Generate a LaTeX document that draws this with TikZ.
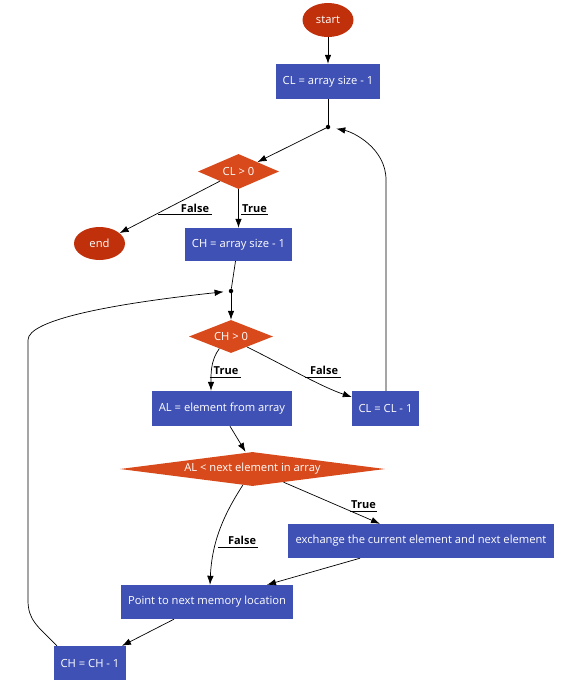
\documentclass[tikz,border=0pt]{standalone}
\usepackage{fontspec}
\setmainfont{Open Sans}
\usetikzlibrary{arrows.meta,shapes.geometric}
\definecolor{boxblue}{HTML}{3F51B5}
\definecolor{decorange}{HTML}{D84A1B}
\definecolor{termred}{HTML}{C0300A}
\tikzset{
  box/.style={rectangle, fill=boxblue, text=white, inner sep=0pt, font=\fontsize{11.2}{13}\selectfont},
  dec/.style={diamond, fill=decorange, text=white, inner sep=0pt, font=\fontsize{11.2}{13}\selectfont},
  term/.style={ellipse, fill=termred, text=white, inner sep=0pt, minimum width=51pt, minimum height=34pt, font=\fontsize{11.2}{13}\selectfont},
  dot/.style={circle, fill=black, inner sep=0pt, minimum size=4.5pt},
  arr/.style={draw=black, line width=0.7pt, -{Latex[length=9pt,width=6.5pt]}},
  ln/.style={draw=black, line width=0.7pt},
  lbl/.style={font=\bfseries\fontsize{11}{13}\selectfont, inner sep=0pt, anchor=base},
  uline/.style={draw=black, line width=0.7pt}
}
\begin{document}
\begin{tikzpicture}[x=1pt,y=-1pt]
\useasboundingbox (0,0) rectangle (572,691);
\fill[white] (0,0) rectangle (572,691);
% nodes
\node[term] (start) at (328,20) {start};
\node[box, minimum width=104pt, minimum height=35pt] (cla) at (328,81.5) {CL = array size - 1};
\node[dot] (j1) at (328,127) {};
\node[dec, aspect=2.31, minimum width=81pt, minimum height=35pt] (cl0) at (238.5,171.5) {CL > 0};
\node[term, minimum height=33pt] (end) at (99.5,243.5) {end};
\node[box, minimum width=107pt, minimum height=33pt] (cha) at (238.5,244.5) {CH = array size - 1};
\node[dot] (j2) at (231,291) {};
\node[dec, aspect=2.55, minimum width=84pt, minimum height=33pt] (ch0) at (231,336.5) {CH > 0};
\node[box, minimum width=140pt, minimum height=35pt] (al) at (222,408.5) {AL = element from array};
\node[box, minimum width=67pt, minimum height=35pt] (cl1) at (385.5,408.5) {CL = CL - 1};
\node[dec, aspect=7.8, minimum width=265pt, minimum height=34pt] (alc) at (252.5,469) {AL < next element in array};
\node[box, minimum width=266pt, minimum height=34pt] (ex) at (421,541) {exchange the current element and next element};
\node[box, minimum width=172pt, minimum height=34pt] (pt) at (207,602) {Point to next memory location};
\node[box, minimum width=72pt, minimum height=34pt] (chm) at (90,663) {CH = CH - 1};
% connectors
\draw[arr] (start) -- (cla);
\draw[ln] (cla) -- (j1);
\draw[arr] (j1) -- (cl0);
\draw[arr] (cl0) -- (end);
\draw[arr] (cl0) -- (cha);
\draw[ln] ([xshift=-3pt]cha.south) -- (j2);
\draw[arr] (j2) -- (ch0);
\draw[arr] (ch0.226) .. controls +(-9,12) and +(0,-16) .. ([xshift=-11pt]al.north);
\draw[arr] (ch0.327) .. controls +(40,20) and +(-30,-10) .. ([yshift=11.5pt]cl1.west);
\draw[arr] ([xshift=8pt]al.south) -- ([xshift=-7pt]alc.north);
\draw[arr] (alc.337) -- ([xshift=-41pt]ex.north);
\draw[arr] (alc.239) .. controls +(-18,28) and +(2,-45) .. ([xshift=3pt]pt.north);
\draw[arr] ([xshift=-61pt]ex.south) -- ([xshift=60pt]pt.north);
\draw[arr] ([xshift=-33pt]pt.south) -- ([xshift=32pt]chm.north);
\coordinate (lft1) at (28,600);
\coordinate (lft2) at (28,340);
\draw[arr, shorten >=5pt] ([xshift=-33pt]chm.north) .. controls +(-20,-20) and +(0,20) .. (lft1) -- (lft2) .. controls +(0,-20) and (110,304) .. (j2);
\coordinate (rgt1) at (386,180);
\draw[arr, shorten >=6pt] ([xshift=0.5pt]cl1.north) -- (rgt1) .. controls +(0,-32) and +(25,5) .. (j1);
% labels
\node[lbl] (f1) at (195,212) {False};
\draw[uline] ([xshift=-23pt,yshift=-2pt]f1.base west) -- ([xshift=3pt,yshift=-2pt]f1.base east);
\node[lbl] (t1) at (254.5,212) {True};
\draw[uline] ([xshift=-1pt,yshift=-2pt]t1.base west) -- ([xshift=1pt,yshift=-2pt]t1.base east);
\node[lbl] (t2) at (226,374.5) {True};
\draw[uline] ([xshift=-4pt,yshift=-2.5pt]t2.base west) -- ([xshift=3pt,yshift=-2.5pt]t2.base east);
\node[lbl] (f2) at (324,374.5) {False};
\draw[uline] ([xshift=-5pt,yshift=-2.5pt]f2.base west) -- ([xshift=3pt,yshift=-2.5pt]f2.base east);
\node[lbl] (t3) at (363.5,508) {True};
\draw[uline] ([xshift=-1pt,yshift=-3pt]t3.base west) -- ([xshift=1pt,yshift=-3pt]t3.base east);
\node[lbl] (f3) at (242,544) {False};
\draw[uline] ([xshift=-10pt,yshift=-3pt]f3.base west) -- ([xshift=2pt,yshift=-3pt]f3.base east);
\end{tikzpicture}
\end{document}
